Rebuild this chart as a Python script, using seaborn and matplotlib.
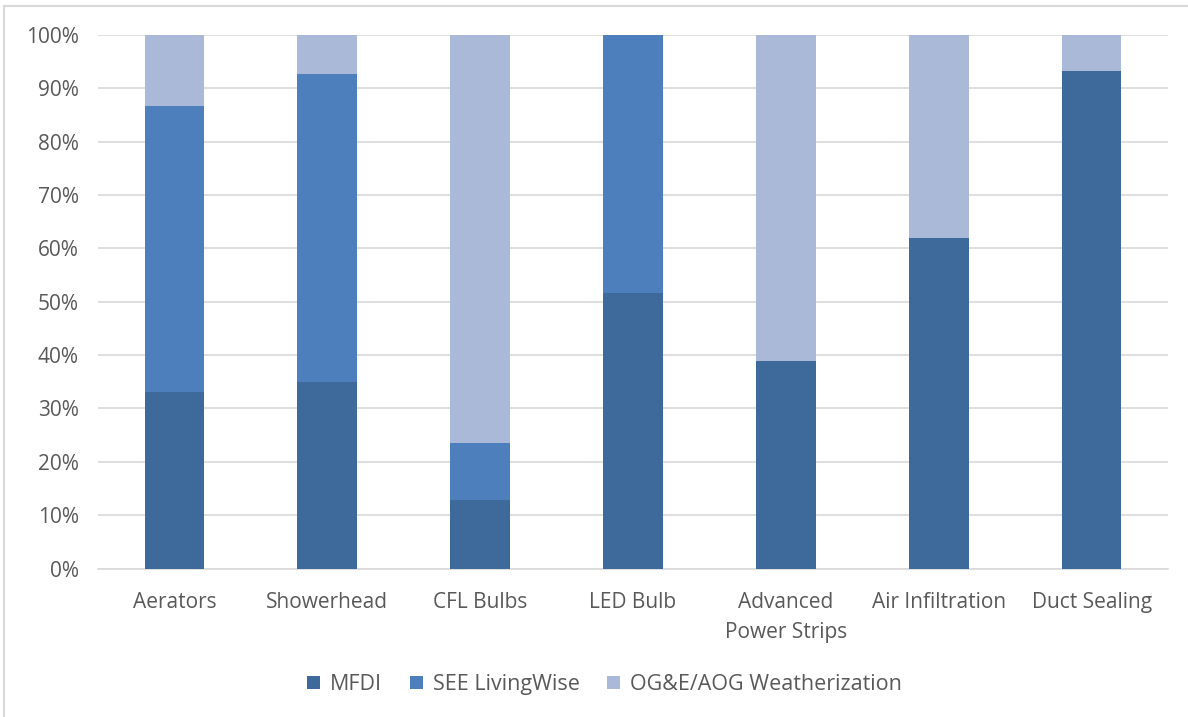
import matplotlib
matplotlib.use("Agg")
import matplotlib.pyplot as plt
from matplotlib.patches import Patch
from matplotlib.lines import Line2D
import seaborn as sns
import pandas as pd
import numpy as np

# Share of each measure by program (percent)
categories = ["Aerators", "Showerhead", "CFL Bulbs", "LED Bulb",
              "Advanced\nPower Strips", "Air Infiltration", "Duct Sealing"]
mfdi = [33.1, 35.0, 12.8, 51.6, 38.9, 62.0, 93.3]
see_livingwise = [53.5, 57.6, 10.7, 48.4, 0.0, 0.0, 0.0]
oge_aog = [13.4, 7.4, 76.5, 0.0, 61.1, 38.0, 6.7]

series_names = ["MFDI", "SEE LivingWise", "OG&E/AOG Weatherization"]
colors = ["#3E6A9B", "#4D7FBC", "#AAB9D7"]
text_color = "#595959"
grid_color = "#D9D9D9"

sns.set_theme(style="white")
plt.rcParams["font.family"] = ["Open Sans", "DejaVu Sans"]

df = pd.DataFrame({
    "category": categories,
    "MFDI": mfdi,
    "SEE LivingWise": see_livingwise,
    "OG&E/AOG Weatherization": oge_aog,
})
# cumulative tops for stacking, drawn from the tallest layer down
df["top_mfdi"] = df["MFDI"]
df["top_see"] = df["MFDI"] + df["SEE LivingWise"]
df["top_all"] = df["top_see"] + df["OG&E/AOG Weatherization"]

fig = plt.figure(figsize=(11.88, 7.17), dpi=100)
ax = fig.add_axes([0.0825, 0.2071, 0.9007, 0.7441])

bar_width = 0.39
for col, color in zip(["top_all", "top_see", "top_mfdi"], colors[::-1]):
    sns.barplot(data=df, x="category", y=col, color=color, width=bar_width,
                saturation=1, ax=ax, order=categories, linewidth=0, zorder=3)

ax.set_ylim(0, 100)
ax.set_xlim(-0.5, len(categories) - 0.5)
ax.set_yticks(np.arange(0, 101, 10))
ax.set_yticklabels([f"{v}%" for v in range(0, 101, 10)])
ax.yaxis.grid(True, color=grid_color, linewidth=1.2, zorder=0)
ax.set_axisbelow(True)
for side in ["top", "right", "left"]:
    ax.spines[side].set_visible(False)
ax.spines["bottom"].set_color(grid_color)
ax.spines["bottom"].set_linewidth(1.2)
ax.set_xlabel("")
ax.set_ylabel("")
ax.tick_params(axis="both", length=0, labelsize=15, colors=text_color)
ax.tick_params(axis="x", pad=17)
ax.tick_params(axis="y", pad=14)
for lbl in ax.get_xticklabels():
    lbl.set_linespacing(1.55)

handles = [Patch(facecolor=c, edgecolor="none") for c in colors]
fig.legend(handles, series_names, loc="center", bbox_to_anchor=(0.509, 0.045),
           ncol=3, frameon=False, fontsize=15.5, labelcolor=text_color,
           handlelength=0.6, handleheight=0.6, handletextpad=0.45,
           columnspacing=1.3)

# light frame along the left and top edges of the chart area
fig.add_artist(Line2D([0.0037, 0.0037], [0.0, 0.9916], transform=fig.transFigure,
                      color="#D9D9D9", linewidth=1.5))
fig.add_artist(Line2D([0.0037, 1.0], [0.9916, 0.9916], transform=fig.transFigure,
                      color="#D9D9D9", linewidth=1.5))

fig.savefig("out.png", dpi=100, facecolor="white")
